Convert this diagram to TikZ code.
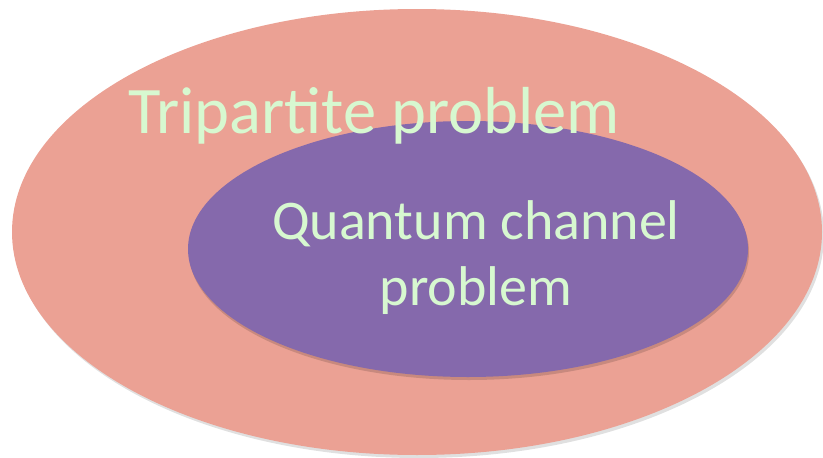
\documentclass[tikz,border=0pt]{standalone}
\usepackage{fontspec}
\setmainfont{Carlito}
\definecolor{salmon}{HTML}{EBA194}
\definecolor{violet}{HTML}{8569AC}
\definecolor{mint}{HTML}{D7F8D0}
\begin{document}
\begin{tikzpicture}[x=1pt,y=-1pt,
  lbl/.style={text=mint,inner sep=0pt,align=center}]
\useasboundingbox (0,0) rectangle (823,458);
\fill[black!12] (419,235) ellipse [x radius=405,y radius=223];
\fill[salmon] (417,232) ellipse [x radius=405,y radius=223];
\fill[salmon!85!black] (469,252) ellipse [x radius=280,y radius=128];
\fill[violet] (468,249) ellipse [x radius=280,y radius=128];
\node[lbl,anchor=base,font=\fontsize{66.5}{70}\selectfont] (tri) at (374,133) {Tripartite problem};
\node[lbl,font=\fontsize{56}{66}\selectfont] (qc) at (476,258) {Quantum channel\\problem};
\end{tikzpicture}
\end{document}
